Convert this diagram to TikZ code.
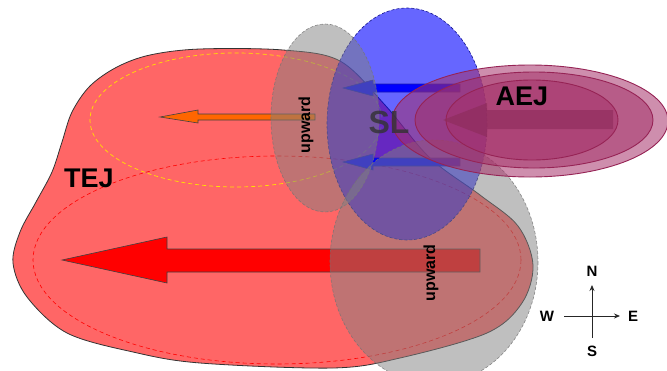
\documentclass[tikz,border=0pt]{standalone}
\usepackage{fontspec}
\setmainfont{Liberation Sans}
\usetikzlibrary{arrows.meta}
\definecolor{blobfill}{RGB}{255,102,102}
\definecolor{yelldash}{RGB}{255,225,0}
\definecolor{orangearr}{RGB}{255,102,0}
\definecolor{grayfill}{RGB}{128,128,128}
\definecolor{aejc}{RGB}{165,50,105}
\definecolor{aejline}{RGB}{150,35,85}
\definecolor{bluedash}{RGB}{20,20,140}
\definecolor{sltext}{RGB}{50,50,50}
\begin{document}
\begin{tikzpicture}[x=1pt,y=-1pt,
  bigtxt/.style={font=\fontsize{27}{27}\selectfont\bfseries, inner sep=0pt},
  upw/.style={font=\fontsize{16}{16}\selectfont\bfseries, rotate=90, inner sep=0pt},
  cmp/.style={font=\fontsize{15}{15}\selectfont\bfseries, inner sep=0pt},
  grayell/.style={fill=grayfill, fill opacity=0.5, draw=black!55, draw opacity=0.8, dash pattern=on 3pt off 2pt, line width=0.6pt},
  aejell/.style={fill=aejc, fill opacity=0.55, draw=aejline, line width=0.9pt},
  blockarr/.style={draw=black!75, line width=0.6pt},
  cmparr/.style={draw=black!85, line width=0.8pt, -{Stealth[length=6pt,width=5pt]}},
]
\useasboundingbox (0,0) rectangle (667,370);

% TEJ region
\filldraw[fill=blobfill, draw=black!80, line width=0.8pt]
  plot[smooth cycle, tension=0.55] coordinates {
  (150,55) (200,49) (283,50) (340,61) (385,105) (430,158) (480,195)
  (518,226) (533,265) (522,303) (487,333) (400,358) (333,368) (200,363)
  (133,352) (67,333) (27,297) (13,263) (20,232) (36,202) (52,172)
  (62,142) (72,112) (90,86) (117,67)};

% dashed cores
\draw[yelldash, dash pattern=on 4pt off 3pt, line width=0.7pt] (236,120) ellipse [x radius=146, y radius=67];
\draw[red, dash pattern=on 4pt off 3pt, line width=0.6pt] (277,260) ellipse [x radius=244, y radius=104];

% jet arrows
\filldraw[blockarr, fill=orangearr] (160,117) -- (198,110) -- (198,114) -- (315,114) -- (315,120) -- (198,120) -- (198,123) -- cycle;
\filldraw[blockarr, fill=red] (62,260) -- (167,237) -- (167,249) -- (480,249) -- (480,272) -- (167,272) -- (167,283) -- cycle;

% blue arrows
\filldraw[blockarr, fill=blue] (343,88) -- (373,80) -- (373,84) -- (460,84) -- (460,92) -- (373,92) -- (373,96) -- cycle;
\filldraw[blockarr, fill=blue] (343,162) -- (373,154) -- (373,158) -- (460,158) -- (460,166) -- (373,166) -- (373,170) -- cycle;

% SL ellipse
\filldraw[fill=blue, fill opacity=0.6, draw=bluedash, dash pattern=on 3pt off 2pt, line width=0.6pt] (407,124) ellipse [x radius=80, y radius=116];

% upward ellipses
\filldraw[grayell] (325,118) ellipse [x radius=54, y radius=94];
\filldraw[grayell] (434,262) ellipse [x radius=104, y radius=122];

\node[upw] (up1) at (306,125) {upward};
\node[upw] (up2) at (431,273) {upward};

% AEJ
\filldraw[aejell] (530,121) ellipse [x radius=138, y radius=56];
\filldraw[aejell] (534,120) ellipse [x radius=119, y radius=48];
\filldraw[aejell] (532,120) ellipse [x radius=86, y radius=40];
\fill[aejc!85!black, fill opacity=0.6] (443,120) -- (487,103) -- (487,110) -- (613,110) -- (613,129) -- (487,129) -- (487,137) -- cycle;

\node[font=\fontsize{32}{32}\selectfont\bfseries, text=sltext, text opacity=0.8, inner sep=0pt] (sl) at (389,122) {SL};

\node[bigtxt] (aej) at (522,96) {AEJ};
\node[bigtxt] (tej) at (89,178) {TEJ};

% compass
\coordinate (cc) at (592,316);
\coordinate (ntip) at (592,285);
\coordinate (sbot) at (592,338);
\coordinate (wl) at (564,316);
\coordinate (etip) at (620,316);
\draw[cmparr] (sbot) -- (ntip);
\draw[cmparr] (wl) -- (etip);
\node[cmp] (N) at (592,271) {N};
\node[cmp] (S) at (592,351) {S};
\node[cmp] (W) at (547,316) {W};
\node[cmp] (E) at (633,316) {E};
\end{tikzpicture}
\end{document}
